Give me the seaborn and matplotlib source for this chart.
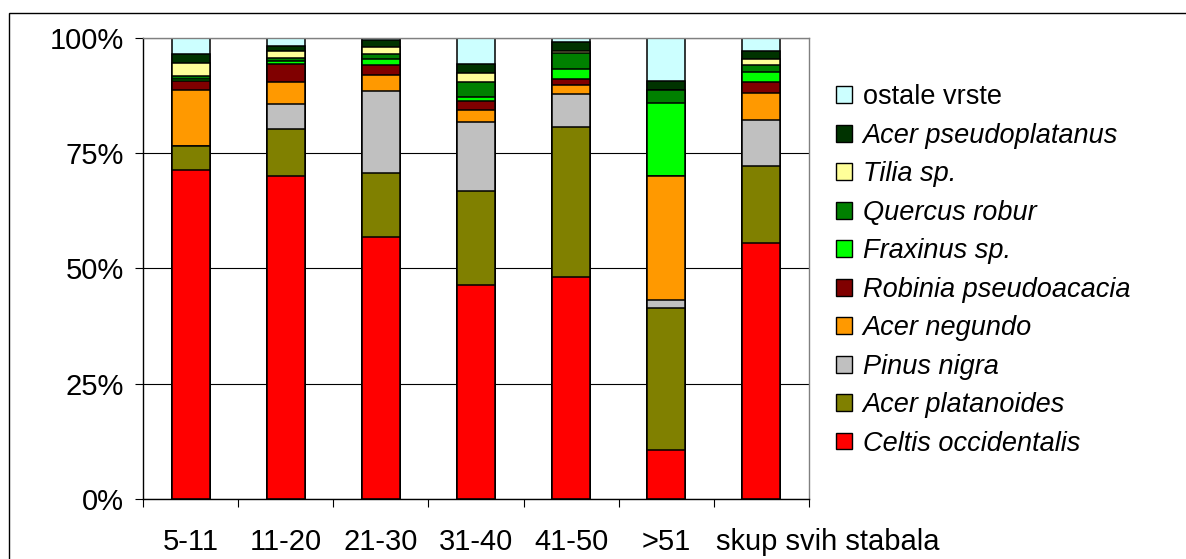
import matplotlib
matplotlib.use("Agg")
import matplotlib.pyplot as plt
import matplotlib.transforms as mtransforms
import seaborn as sns
import numpy as np
from matplotlib.patches import Rectangle, Patch

categories = ["5-11", "11-20", "21-30", "31-40", "41-50", ">51", "skup svih stabala"]

celtis        = [71.5, 70.0, 56.9, 46.5, 48.1, 10.6, 55.6]
acer_platan   = [5.0, 10.4, 13.8, 20.3, 32.6, 30.8, 16.6]
pinus         = [0.0, 5.4, 17.8, 15.1, 7.1, 1.7, 10.1]
acer_negundo  = [12.2, 4.6, 3.5, 2.6, 2.0, 26.9, 5.8]
robinia       = [2.1, 4.0, 2.2, 1.9, 1.3, 0.0, 2.3]
fraxinus      = [0.3, 0.7, 1.4, 0.8, 2.2, 15.9, 2.2]
quercus       = [0.7, 0.6, 0.9, 3.3, 3.6, 2.8, 1.6]
tilia         = [2.85, 1.6, 1.7, 1.9, 0.3, 0.0, 1.4]
acer_pseudo   = [1.9, 1.0, 1.5, 2.0, 2.0, 2.0, 1.6]
ostale        = [3.45, 1.7, 0.3, 5.6, 0.8, 9.3, 2.8]

series_names = ["Celtis occidentalis", "Acer platanoides", "Pinus nigra", "Acer negundo",
                "Robinia pseudoacacia", "Fraxinus sp.", "Quercus robur", "Tilia sp.",
                "Acer pseudoplatanus", "ostale vrste"]
series_values = [celtis, acer_platan, pinus, acer_negundo, robinia, fraxinus, quercus,
                 tilia, acer_pseudo, ostale]
colors = ["#FF0000", "#808000", "#C0C0C0", "#FF9900", "#800000", "#00FF00", "#008000",
          "#FFFF99", "#003300", "#CCFFFF"]

sns.set_theme(style="white")
plt.rcParams['font.family'] = ['Liberation Sans', 'DejaVu Sans']
plt.rcParams['text.color'] = 'black'
plt.rcParams['xtick.color'] = 'black'
plt.rcParams['ytick.color'] = 'black'
plt.rcParams['xtick.labelcolor'] = 'black'
plt.rcParams['ytick.labelcolor'] = 'black'

fig = plt.figure(figsize=(11.86, 5.59), dpi=100)
ax = fig.add_axes([143.3/1186, 1-498.7/559, (808.7-143.3)/1186, (498.7-38.3)/559])

vals = np.array(series_values, dtype=float)
totals = vals.sum(axis=0)
vals = vals / totals * 100.0
cum = np.cumsum(vals, axis=0)

ax.set_axisbelow(True)
for i in range(len(series_names) - 1, -1, -1):
    sns.barplot(x=categories, y=cum[i], color=colors[i], width=0.4, saturation=1,
                edgecolor="black", linewidth=1.1, errorbar=None, ax=ax, order=categories)

ax.set_ylim(0, 100)
ax.set_xlim(-0.5, len(categories) - 0.5)
ax.set_yticks([0, 25, 50, 75, 100])
ax.set_yticklabels(["0%", "25%", "50%", "75%", "100%"], fontsize=21)
ax.yaxis.grid(True, color="black", linewidth=0.8)
ax.xaxis.grid(False)
ax.tick_params(axis="y", length=6, width=0.8, color="black", pad=8, left=True, direction="out")
ax.tick_params(axis="x", which="major", length=0, pad=21, labelsize=21)
ax.set_xticks(np.arange(-0.5, len(categories), 1.0), minor=True)
ax.tick_params(axis="x", which="minor", length=6, width=0.8, color="black", bottom=True, direction="out")
ax.set_xlabel("")
ax.set_ylabel("")

last = ax.get_xticklabels()[-1]
last.set_horizontalalignment("left")
last.set_transform(last.get_transform() + mtransforms.ScaledTranslation(-45/100, 0, fig.dpi_scale_trans))

for side in ["left", "bottom"]:
    ax.spines[side].set_color("black")
    ax.spines[side].set_linewidth(1.0)
for side in ["top", "right"]:
    ax.spines[side].set_visible(True)
    ax.spines[side].set_color("#808080")
    ax.spines[side].set_linewidth(1.0)

handles = [Patch(facecolor=colors[i], edgecolor="black", linewidth=1.0) for i in range(len(series_names))][::-1]
labels = series_names[::-1]
leg = fig.legend(handles, labels, loc="center left", bbox_to_anchor=(836/1186, 1-270.5/559),
                 frameon=False, prop={"size": 19.5, "style": "italic", "family": "Liberation Sans"},
                 handlelength=0.58, handleheight=0.58, handletextpad=0.4, labelspacing=0.46,
                 borderpad=0, borderaxespad=0)
for t in leg.get_texts():
    t.set_color("black")
leg.get_texts()[0].set_style("normal")

fig.patches.append(Rectangle((9/1186, -0.1), 1.2, 1 - 13.3/559 + 0.1, transform=fig.transFigure,
                             fill=False, edgecolor="black", linewidth=1.0))

fig.savefig("out.png", dpi=100)
